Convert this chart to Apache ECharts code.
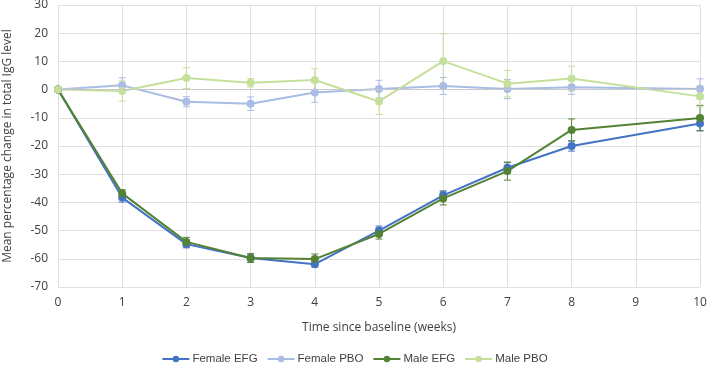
<!DOCTYPE html>
<html><head><meta charset="utf-8">
<script src="https://cdn.jsdelivr.net/npm/echarts@6/dist/echarts.min.js"></script>
<style>html,body{margin:0;padding:0;background:#fff}#c{width:709px;height:365px}</style>
</head><body><div id="c"></div>
<script>
var weeks = [0, 1, 2, 3, 4, 5, 6, 7, 8, 10];
var seriesNames = ['Female EFG', 'Female PBO', 'Male EFG', 'Male PBO'];
var femaleEFG = [0, -38.3, -54.8, -59.7, -61.9, -50.0, -37.5, -27.7, -20.0, -12.0];
var femaleEFGErr = [0, 1.6, 1.3, 1.0, 1.0, 1.6, 1.6, 1.8, 1.8, 2.6];
var femalePBO = [0, 1.5, -4.3, -5.0, -1.0, 0.2, 1.3, 0.2, 0.8, 0.2];
var femalePBOErr = [0, 2.7, 1.8, 2.4, 3.5, 3.1, 3.0, 3.4, 2.5, 3.6];
var maleEFG = [0, -36.8, -54.0, -59.7, -60.1, -51.2, -38.6, -28.9, -14.3, -10.1];
var maleEFGErr = [0, 1.3, 1.6, 1.6, 1.8, 1.8, 2.3, 3.2, 3.9, 4.5];
var malePBO = [0, -0.5, 4.1, 2.4, 3.4, -4.2, 10.1, 2.1, 3.9, -2.4];
var malePBOErr = [0, 3.6, 3.7, 1.5, 4.0, 4.6, 9.7, 4.7, 4.4, 3.8];
var colors = ['#4472C4', '#A9BCE3', '#548235', '#C5E09B'];
var yTicks = {min: -70, max: 30, interval: 10};
var xTicks = {min: 0, max: 10, interval: 1};

function pairs(v){ return weeks.map(function(w,i){ return [w, v[i]]; }); }
function errData(v,e){ return weeks.map(function(w,i){ return [w, v[i]-e[i], v[i]+e[i]]; }); }
function errSeries(name, v, e, color){
  return {
    type: 'custom', name: name + ' error', z: 1,
    data: errData(v,e),
    renderItem: function(params, api){
      var x = api.value(0);
      var lo = api.coord([x, api.value(1)]);
      var hi = api.coord([x, api.value(2)]);
      var w = 3.5;
      var st = {stroke: color, lineWidth: 1};
      return {type:'group', children:[
        {type:'line', shape:{x1:lo[0],y1:lo[1],x2:hi[0],y2:hi[1]}, style:st},
        {type:'line', shape:{x1:lo[0]-w,y1:lo[1],x2:lo[0]+w,y2:lo[1]}, style:st},
        {type:'line', shape:{x1:hi[0]-w,y1:hi[1],x2:hi[0]+w,y2:hi[1]}, style:st}
      ]};
    },
    encode: {x: 0, y: [1, 2]},
    silent: true
  };
}
function lineSeries(name, v, color){
  return {
    type: 'line', name: name, data: pairs(v), z: 3,
    symbol: 'circle', symbolSize: 8,
    lineStyle: {color: color, width: 2},
    itemStyle: {color: color},
    emphasis: {disabled: true}
  };
}
var vals = [femaleEFG, femalePBO, maleEFG, malePBO];
var errs = [femaleEFGErr, femalePBOErr, maleEFGErr, malePBOErr];
var series = [];
for (var i=0;i<4;i++) series.push(errSeries(seriesNames[i], vals[i], errs[i], colors[i]));
for (var j=0;j<4;j++) series.push(lineSeries(seriesNames[j], vals[j], colors[j]));

var chart = echarts.init(document.getElementById('c'), null, {renderer:'canvas'});
chart.setOption({
  animation: false,
  color: colors,
  textStyle: {fontFamily: 'Open Sans, Noto Sans, sans-serif'},
  grid: {left: 58, right: 9, top: 5, bottom: 78, containLabel: false, outerBoundsMode: 'none'},
  legend: {
    data: seriesNames, top: 353, left: 'center', padding: 0,
    itemWidth: 27, itemHeight: 8, itemGap: 9,
    textStyle: {color: '#404040', fontSize: 11.5, fontFamily: 'Liberation Sans, Arial, sans-serif', padding: [0,0,0,-2]}
  },
  xAxis: {
    type: 'value', min: xTicks.min, max: xTicks.max, interval: xTicks.interval,
    name: 'Time since baseline (weeks)', nameLocation: 'middle', nameGap: 35,
    nameTextStyle: {color: '#404040', fontSize: 12},
    axisLine: {show: false}, axisTick: {show: false},
    axisLabel: {color: '#404040', fontSize: 12, margin: 10},
    splitLine: {show: true, lineStyle: {color: '#E0E0E0', width: 1}}
  },
  yAxis: {
    type: 'value', min: yTicks.min, max: yTicks.max, interval: yTicks.interval,
    name: 'Mean percentage change in total IgG level', nameLocation: 'middle', nameGap: 44,
    nameTextStyle: {color: '#404040', fontSize: 12},
    axisLine: {show: false}, axisTick: {show: false},
    axisLabel: {color: '#404040', fontSize: 12, margin: 10},
    splitLine: {show: true, lineStyle: {color: '#E0E0E0', width: 1}}
  },
  series: series.concat([{
    type: 'line', data: [], markLine: {
      silent: true, symbol: 'none', label: {show: false},
      lineStyle: {color: '#C8C8C8', type: 'solid', width: 1},
      data: [{yAxis: 0}]
    }
  }])
});
</script></body></html>
